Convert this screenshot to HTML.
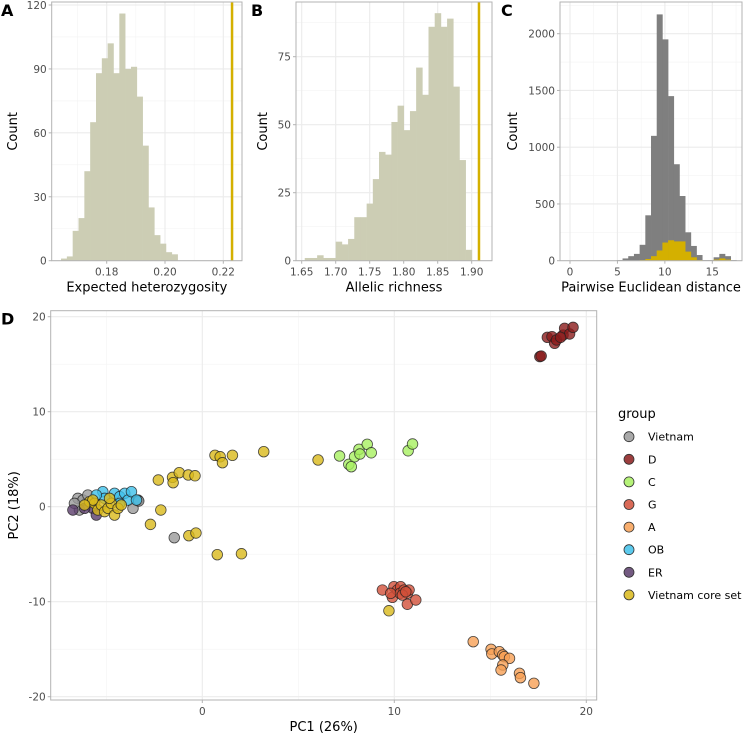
<!DOCTYPE html>
<html><head><meta charset="utf-8">
<style>
html,body{margin:0;padding:0;background:#fff;}
svg{display:block;font-family:"DejaVu Sans","Liberation Sans",sans-serif;}
.tick{fill:#4d4d4d;font-size:10.5px;}
.ttl{fill:#000;font-size:13px;}
.lbl{fill:#000;font-size:16px;font-weight:bold;}
</style></head>
<body>
<svg id="fig" width="750" height="736" viewBox="0 0 750 736"></svg>
<script>
// ---- Panel A data ----
const aCounts=[1,2,14,20,42,65,88,95,102,88,116,90,91,77,54,25,12,8,4,3];
const aBinStart=0.16433, aBinWidth=0.002;
const aXTicks=[0.18,0.20,0.22];
const aYTicks=[0,30,60,90,120];
const aObserved=0.223;
// ---- Panel B data ----
const bCounts=[1,1,2,1,1,7,6,8,16,16,21,30,40,39,51,57,48,55,71,61,86,91,86,89,64,37,4];
const bBinStart=1.6545, bBinWidth=0.0091;
const bXTicks=[1.65,1.70,1.75,1.80,1.85,1.90];
const bYTicks=[0,25,50,75];
const bObserved=1.9107;
// ---- Panel C data ----
const cGrey=[5,20,40,60,140,400,1100,2170,1950,1450,850,570,250,130,50,5,5,30,60,40,5];
const cCore=[0,0,0,0,5,15,40,90,160,180,170,170,80,30,5,0,0,10,20,10,0];
const cBinStart=4.94, cBinWidth=0.6;
const cXTicks=[0,5,10,15];
const cYTicks=[0,500,1000,1500,2000];
// ---- Panel D data ----
const dXTicks=[0,10,20];
const dYTicks=[-20,-10,0,10,20];
const groups=["Vietnam","D","C","G","A","OB","ER","Vietnam core set"];
const groupColors=["#9a9a9a","#8b1c1c","#a8f060","#d2503a","#f7a055","#3fc1ea","#5b3d6b","#d9b91a"];
const vietnamX=[-6.48,-6.22,-5.96,-3.35,-6.40,-3.61,-6.66,-1.46,-3.31];
const vietnamY=[0.88,0.70,1.23,0.70,-0.35,-0.17,0.35,-3.26,0.6];
const erX=[-6.74,-5.70,-5.52,-6.13];
const erY=[-0.35,-0.17,-0.88,-0.17];
const obX=[-5.18,-5.09,-4.57,-4.30,-4.04,-3.87,-3.69,-4.30,-3.43,-5.52];
const obY=[1.58,0.88,1.41,1.06,1.41,0.70,1.58,0.35,0.70,1.23];
const dX=[17.58,17.65,17.97,18.21,18.35,18.45,18.79,18.87,19.13,19.31,18.66];
const dY=[15.8,15.86,17.83,17.9,17.2,17.55,18.07,18.78,18.18,18.88,17.83];
const cX=[7.15,7.63,7.76,7.93,8.16,8.21,8.59,8.8,10.72,10.95];
const cY=[5.34,4.46,4.21,5.26,6.04,5.55,6.57,5.68,5.89,6.6];
const gX=[9.38,9.9,9.98,10.16,10.33,10.3,10.51,10.68,10.77,10.68,11.12,9.81,10.42,10.6];
const gY=[-8.77,-9.54,-8.42,-8.77,-8.42,-9.12,-8.77,-9.12,-8.77,-10.27,-9.82,-9.12,-9.3,-8.95];
const aX=[14.11,15.04,15.08,15.47,15.65,15.73,16,15.65,15.56,16.52,16.57,17.27];
const aY=[-14.21,-15.01,-15.5,-15.26,-15.61,-15.79,-15.96,-16.66,-17.19,-17.54,-18,-18.59];
const coreX=[-5.87,-5.61,-5.44,-5.26,-5.09,-4.91,-4.74,-4.57,-4.39,-5.70,-6.13,-4.22,-4.83,-2.29,-1.55,-1.52,-1.2,-0.73,-0.38,0.66,0.93,1.05,1.57,3.2,6.03,-2.16,-2.7,-0.7,-0.33,0.78,2.04,9.72];
const coreY=[0.53,0.35,-0.35,0.18,-0.52,-0.17,0.35,-0.88,-0.17,0.70,0.18,0.18,0.88,2.81,3.09,2.53,3.58,3.34,3.26,5.41,5.26,4.63,5.41,5.79,4.92,-0.35,-1.86,-3.05,-2.77,-5.05,-4.95,-10.95];

const NS="http://www.w3.org/2000/svg";
const svg=document.getElementById('fig');
function el(tag,attrs,parent,text){
  const e=document.createElementNS(NS,tag);
  for(const k in attrs)e.setAttribute(k,attrs[k]);
  if(text!==undefined)e.textContent=text;
  (parent||svg).appendChild(e);return e;
}
function lin(d0,d1,r0,r1){return v=>r0+(v-d0)*(r1-r0)/(d1-d0);}

function panel(o){
  const g=el('g',{});
  
  
  const xs=o.xs, ys=o.ys;
  (o.xMinor||[]).forEach(v=>{const l=el('line',{x1:xs(v),x2:xs(v),y1:o.t,y2:o.b,stroke:'#f3f3f3','stroke-width':0.6},g);});
  (o.yMinor||[]).forEach(v=>{const l=el('line',{x1:o.l,x2:o.r,y1:ys(v),y2:ys(v),stroke:'#f3f3f3','stroke-width':0.6},g);});
  o.xTicks.forEach(v=>{const l=el('line',{x1:xs(v),x2:xs(v),y1:o.t,y2:o.b,stroke:'#ebebeb','stroke-width':1.1},g);});
  o.yTicks.forEach(v=>{const l=el('line',{x1:o.l,x2:o.r,y1:ys(v),y2:ys(v),stroke:'#ebebeb','stroke-width':1.1},g);});
  o.draw(g);
  const bd=el('rect',{x:o.l,y:o.t,width:o.r-o.l,height:o.b-o.t,fill:'none',stroke:'#b3b3b3','stroke-width':1},g);
  
  o.xTicks.forEach(v=>{
    const tl=el('line',{x1:xs(v),x2:xs(v),y1:o.b,y2:o.b+3,stroke:'#b3b3b3'},g);
    
    const t=el('text',{x:xs(v),y:o.b+15,'text-anchor':'middle',class:'tick'},g,o.xFmt(v));
    
  });
  o.yTicks.forEach(v=>{
    const tl=el('line',{x1:o.l-3,x2:o.l,y1:ys(v),y2:ys(v),stroke:'#b3b3b3'},g);
    
    const t=el('text',{x:o.l-5,y:ys(v)+4,'text-anchor':'end',class:'tick'},g,o.yFmt(v));
    
  });
  const xt=el('text',{x:(o.l+o.r)/2,y:o.b+31,'text-anchor':'middle',class:'ttl'},g,o.xTitle);
  
  const yt=el('text',{x:0,y:0,'text-anchor':'middle',class:'ttl',transform:`translate(${o.yTitleX},${(o.t+o.b)/2}) rotate(-90)`},g,o.yTitle);
  
  const pl=el('text',{x:o.letterX,y:o.t+14,class:'lbl'},g,o.letter);
  
}

function hist(g,counts,start,w,xs,ys,fill,name){
  counts.forEach((c,i)=>{
    if(c<=0)return;
    const x0=xs(start+i*w),x1=xs(start+(i+1)*w);
    const r=el('rect',{x:x0,y:ys(c),width:x1-x0+0.3,height:ys(0)-ys(c),fill:fill},g);
    
    
  });
}

// Panel A
{const xs=lin(0.18,0.20,106.7,165),ys=lin(0,120,260.7,5);
panel({name:'panel-a-heterozygosity',l:51.7,r:242,t:2,b:260.7,xs,ys,xTicks:aXTicks,yTicks:aYTicks,
 yMinor:[15,45,75,105],xMinor:[0.17,0.19,0.21],
 xFmt:v=>v.toFixed(2),yFmt:v=>String(v),xTitle:'Expected heterozygosity',yTitle:'Count',yTitleX:17,letter:'A',letterX:1,
 draw:g=>{hist(g,aCounts,aBinStart,aBinWidth,xs,ys,'#cccdb4','histogram-bar');
  const l=el('line',{x1:xs(aObserved),x2:xs(aObserved),y1:2,y2:260.7,stroke:'#d4b000','stroke-width':2.5},g);
  }});}
// Panel B
{const xs=lin(1.65,1.90,301.7,471.7),ys=lin(0,25,260.7,192.7);
panel({name:'panel-b-allelic-richness',l:296,r:492,t:2,b:260.7,xs,ys,xTicks:bXTicks,yTicks:bYTicks,
 yMinor:[12.5,37.5,62.5,87.5],
 xFmt:v=>v.toFixed(2),yFmt:v=>String(v),xTitle:'Allelic richness',yTitle:'Count',yTitleX:267,letter:'B',letterX:251,
 draw:g=>{hist(g,bCounts,bBinStart,bBinWidth,xs,ys,'#cccdb4','histogram-bar');
  const l=el('line',{x1:xs(bObserved),x2:xs(bObserved),y1:2,y2:260.7,stroke:'#d4b000','stroke-width':2.5},g);
  }});}
// Panel C
{const xs=lin(0,15,570,712.3),ys=lin(0,2000,260.7,33.7);
panel({name:'panel-c-euclidean-distance',l:560,r:742,t:2,b:260.7,xs,ys,xTicks:cXTicks,yTicks:cYTicks,
 yMinor:[250,750,1250,1750,2250],xMinor:[2.5,7.5,12.5,17.5],
 xFmt:v=>String(v),yFmt:v=>String(v),xTitle:'Pairwise Euclidean distance',yTitle:'Count',yTitleX:517,letter:'C',letterX:501,
 draw:g=>{hist(g,cGrey,cBinStart,cBinWidth,xs,ys,'#7f7f7f','histogram-bar-all');
  hist(g,cCore,cBinStart,cBinWidth,xs,ys,'#d4b000','histogram-bar-core-set');}});}
// Panel D
{const xs=lin(0,10,202.3,394.3),ys=lin(0,10,506.7,411.7);
panel({name:'panel-d-pca',l:50.7,r:596.7,t:310.7,b:700,xs,ys,xTicks:dXTicks,yTicks:dYTicks,
 xMinor:[-5,5,15],yMinor:[-15,-5,5,15],
 xFmt:v=>String(v),yFmt:v=>String(v),xTitle:'PC1 (26%)',yTitle:'PC2 (18%)',yTitleX:18,letter:'D',letterX:1,
 draw:g=>{
  const sets=[[vietnamX,vietnamY,0],[dX,dY,1],[cX,cY,2],[gX,gY,3],[aX,aY,4],[erX,erY,6],[obX,obY,5],[coreX,coreY,7]];
  sets.forEach(([X,Y,gi])=>{
    X.forEach((xv,i)=>{
      const c=el('circle',{cx:xs(xv),cy:ys(Y[i]),r:5.3,fill:groupColors[gi],'fill-opacity':0.8,stroke:'#222','stroke-opacity':0.8,'stroke-width':0.8},g);
      
      
    });
  });
 }});}
// Legend
{const lg=el('g',{});


const t=el('text',{x:618,y:418,class:'ttl','font-size':'13.5px'},lg,'group');

groups.forEach((gname,i)=>{
  const y=436.7+22.6*i;
  const c=el('circle',{cx:629,cy:y,r:5,fill:groupColors[i],'fill-opacity':0.85,stroke:'#333','stroke-width':0.8},lg);
  
  const tx=el('text',{x:648,y:y+4,'font-size':'11px',fill:'#000'},lg,gname);
  
});}
</script>
</body></html>
